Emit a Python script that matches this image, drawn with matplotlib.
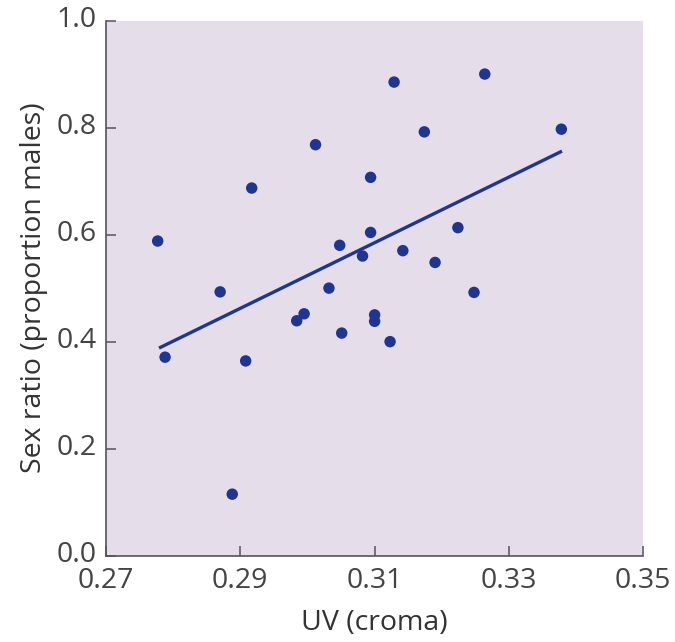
import matplotlib
matplotlib.use("Agg")
import matplotlib.pyplot as plt
import matplotlib.transforms as mtransforms

# UV chroma vs sex ratio
uv = [0.2777, 0.2788, 0.2870, 0.2917, 0.2908, 0.2888, 0.3012, 0.2984, 0.2995,
      0.3032, 0.3048, 0.3051, 0.3082, 0.3094, 0.3094, 0.3100, 0.3100, 0.3123,
      0.3129, 0.3142, 0.3174, 0.3190, 0.3224, 0.3248, 0.3264, 0.3378]
sex_ratio = [0.588, 0.371, 0.493, 0.687, 0.364, 0.115, 0.768, 0.439, 0.452,
             0.500, 0.580, 0.416, 0.560, 0.604, 0.707, 0.450, 0.438, 0.400,
             0.885, 0.570, 0.792, 0.548, 0.613, 0.492, 0.900, 0.797]

# regression line end points
fit_x = [0.2779, 0.3379]
fit_y = [0.388, 0.756]

xticks = [0.27, 0.29, 0.31, 0.33, 0.35]
yticks = [0.0, 0.2, 0.4, 0.6, 0.8, 1.0]

navy = "#1f3590"
plt.rcParams["font.family"] = ["Open Sans", "DejaVu Sans"]

fig = plt.figure(figsize=(6.75, 6.42), dpi=100)
ax = fig.add_axes([0.157, 0.1344, 0.796, 0.8336])
ax.set_facecolor("#e6ddeb")

ax.plot(fit_x, fit_y, color=navy, linewidth=2.4, solid_capstyle="butt", zorder=2)
ax.scatter(uv, sex_ratio, s=68, color=navy, edgecolors="none", zorder=3)

ax.set_xlim(0.27, 0.35)
ax.set_ylim(0.0, 1.0)
ax.set_xticks(xticks)
ax.set_xticklabels([f"{t:.2f}" for t in xticks])
ax.set_yticks(yticks)
ax.set_yticklabels([f"{t:.1f}" for t in yticks])

for s in ["top", "right"]:
    ax.spines[s].set_visible(False)
for s in ["left", "bottom"]:
    ax.spines[s].set_color("#555555")
    ax.spines[s].set_linewidth(1.2)

ax.tick_params(direction="in", length=7, width=1.1, color="#555555",
               labelsize=20.5, labelcolor="#444444")
ax.tick_params(axis="x", pad=8)
ax.tick_params(axis="y", pad=7)

# nudge y tick labels up a little, as in the original
shift = mtransforms.ScaledTranslation(0, 3 / 72, fig.dpi_scale_trans)
for lab in ax.get_yticklabels():
    lab.set_transform(lab.get_transform() + shift)

ax.set_xlabel("UV (croma)", fontsize=20.5, color="#333333", labelpad=10)
ax.set_ylabel("Sex ratio (proportion males)", fontsize=20.5, color="#333333", labelpad=6)

fig.savefig("out.png", dpi=100)
